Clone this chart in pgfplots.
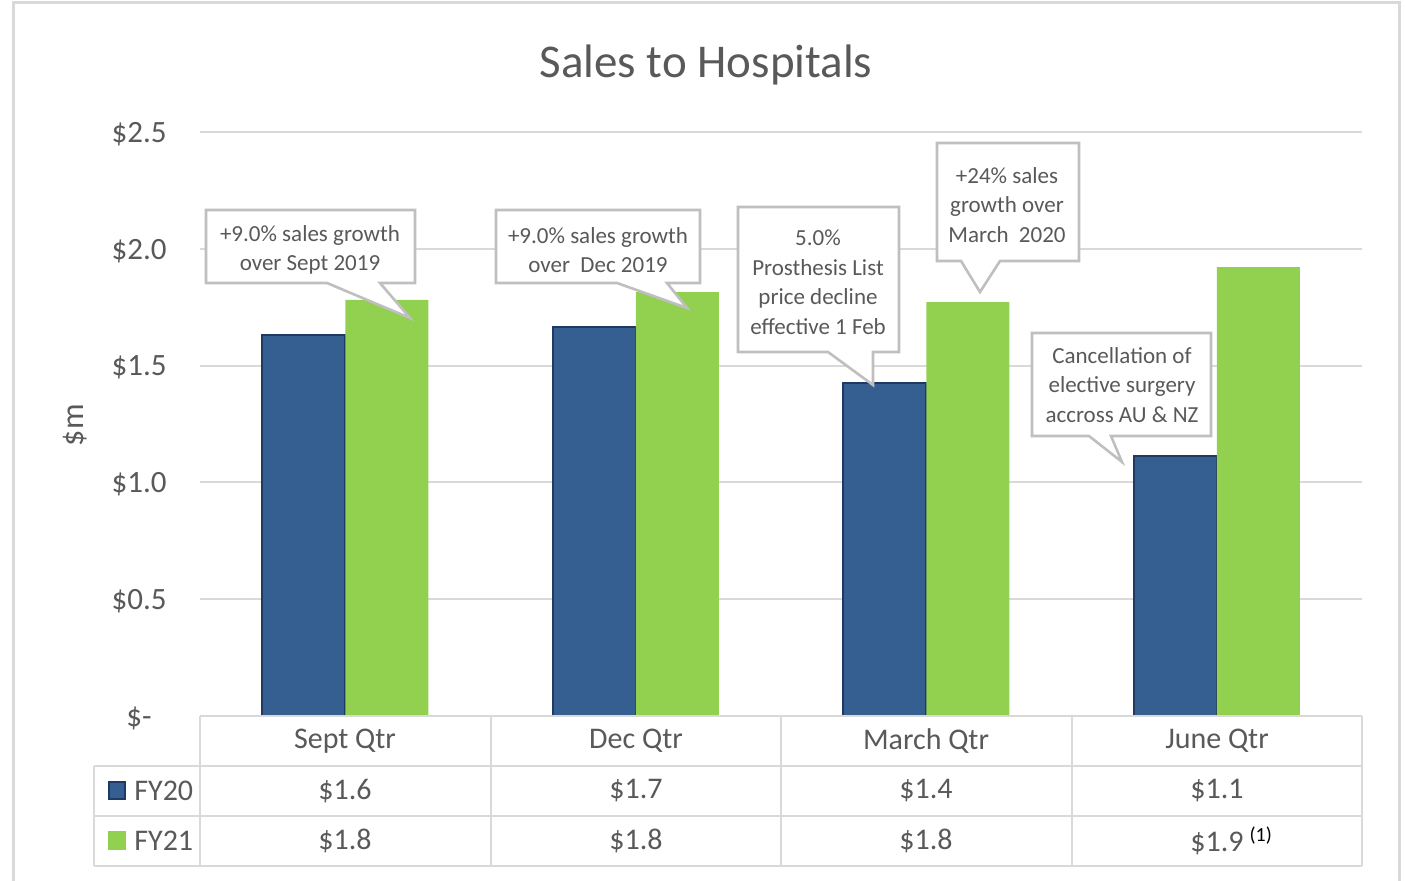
\documentclass[border=0pt]{standalone}
\usepackage{pgfplots}
\pgfplotsset{compat=1.18}
\usepackage{fontspec}
\setmainfont{Carlito}
\definecolor{txt}{HTML}{595959}
\definecolor{gridc}{HTML}{D9D9D9}
\definecolor{calc}{HTML}{BFBFBF}
\definecolor{fyA}{HTML}{355E91}
\definecolor{fyAb}{HTML}{203864}
\definecolor{fyB}{HTML}{92D050}
\begin{document}
\begin{tikzpicture}
\useasboundingbox (0,0) rectangle (702.5pt,440pt);
\begin{axis}[
  at={(100pt,82pt)}, anchor=south west,
  scale only axis, width=581pt, height=292pt,
  xmin=-0.5, xmax=3.5, ymin=0, ymax=2.5,
  xtick=\empty,
  ytick={0,0.5,1,1.5,2,2.5},
  yticklabels={\$-\kern7.5pt,\$0.5,\$1.0,\$1.5,\$2.0,\$2.5},
  yticklabel style={inner sep=0pt, xshift=-16.5pt, yshift=-1pt, font=\fontsize{15.5}{18}\selectfont, text=txt},
  major tick length=0pt,
  axis line style={draw=none},
  ymajorgrids, grid style={draw=gridc, line width=1pt},
  ylabel={\$m},
  ylabel style={at={(axis description cs:-0.1076,0.498)}, anchor=center, font=\fontsize{16}{19}\selectfont, text=txt},
  title={Sales to Hospitals},
  title style={at={(axis description cs:0.4355,1.094)}, anchor=center, font=\fontsize{23.5}{27}\selectfont, text=txt},
  ybar, bar width=41.5pt,
  clip=false,
]
\addplot[fill=fyA, draw=fyAb, line width=1pt, bar shift=-20.75pt] coordinates {(0,1.631) (1,1.665) (2,1.425) (3,1.113)};
\addplot[fill=fyB, draw=none, bar shift=20.75pt] coordinates {(0,1.781) (1,1.815) (2,1.772) (3,1.922)};
\end{axis}
\begin{scope}[shift={(0pt,440pt)}, x=0.5pt, y=-0.5pt]
  % outer border
  \draw[gridc, line width=1.5pt] (13,890) -- (13,3) -- (1399,3) -- (1399,890);
  % table
  \begin{scope}[gridc, line width=1.3pt]
    \draw (200,716) -- (1362,716);
    \draw (94,766) -- (1362,766);
    \draw (94,816) -- (1362,816);
    \draw (94,866) -- (1362,866);
    \draw (94,766) -- (94,866);
    \foreach \xx in {200,491,781,1072,1362} \draw (\xx,716) -- (\xx,866);
  \end{scope}
  \begin{scope}[every node/.style={text=txt, font=\fontsize{15}{18}\selectfont, inner sep=0pt}]
    \node at (345,741) {Sept Qtr};
    \node at (636,741) {Dec Qtr};
    \node at (926,741) {March Qtr};
    \node at (1217,741) {June Qtr};
    \node at (345,791) {\$1.6};
    \node at (636,791) {\$1.7};
    \node at (926,791) {\$1.4};
    \node at (1217,791) {\$1.1};
    \node at (345,841) {\$1.8};
    \node at (636,841) {\$1.8};
    \node at (926,841) {\$1.8};
    \node at (1217,841) {\$1.9\rlap{\hspace{3pt}\raisebox{5pt}{\color{black}\fontsize{10}{12}\selectfont(1)}}};
    \node[anchor=west] at (134,791) {FY20};
    \node[anchor=west] at (134,841) {FY21};
  \end{scope}
  \filldraw[fill=fyA, draw=fyAb, line width=1pt] (109,782) rectangle (125,799);
  \fill[fyB] (108,831) rectangle (126,850);
  % callouts
  \begin{scope}[draw=calc, fill=white, line width=1.3pt]
    \filldraw (206,210) -- (415,210) -- (415,283) -- (380,283) -- (410,318) -- (327,283) -- (206,283) -- cycle;
    \filldraw (496,210) -- (700,210) -- (700,283) -- (667,283) -- (687,308) -- (617,283) -- (496,283) -- cycle;
    \filldraw (738,207) -- (899,207) -- (899,352) -- (873,352) -- (873,385) -- (828,352) -- (738,352) -- cycle;
    \filldraw (937,143) -- (1079,143) -- (1079,261) -- (1000,261) -- (980,292) -- (961,261) -- (937,261) -- cycle;
    \filldraw (1032,333) -- (1211,333) -- (1211,436) -- (1111,436) -- (1122,462) -- (1089,436) -- (1032,436) -- cycle;
  \end{scope}
  \begin{scope}[every node/.style={text=txt, align=center, font=\fontsize{11.5}{14.75}\selectfont, inner sep=0pt}]
    \node at (310,250) {+9.0\% sales growth\\over Sept 2019};
    \node at (598,250) {+9.0\% sales growth\\over\ \ Dec 2019};
    \node at (818,282) {5.0\%\\Prosthesis List\\price decline\\effective 1 Feb};
    \node at (1007,205) {+24\% sales\\growth over\\March\ \ 2020};
    \node at (1122,385) {Cancellation of\\elective surgery\\accross AU \& NZ};
  \end{scope}
\end{scope}
\end{tikzpicture}
\end{document}
